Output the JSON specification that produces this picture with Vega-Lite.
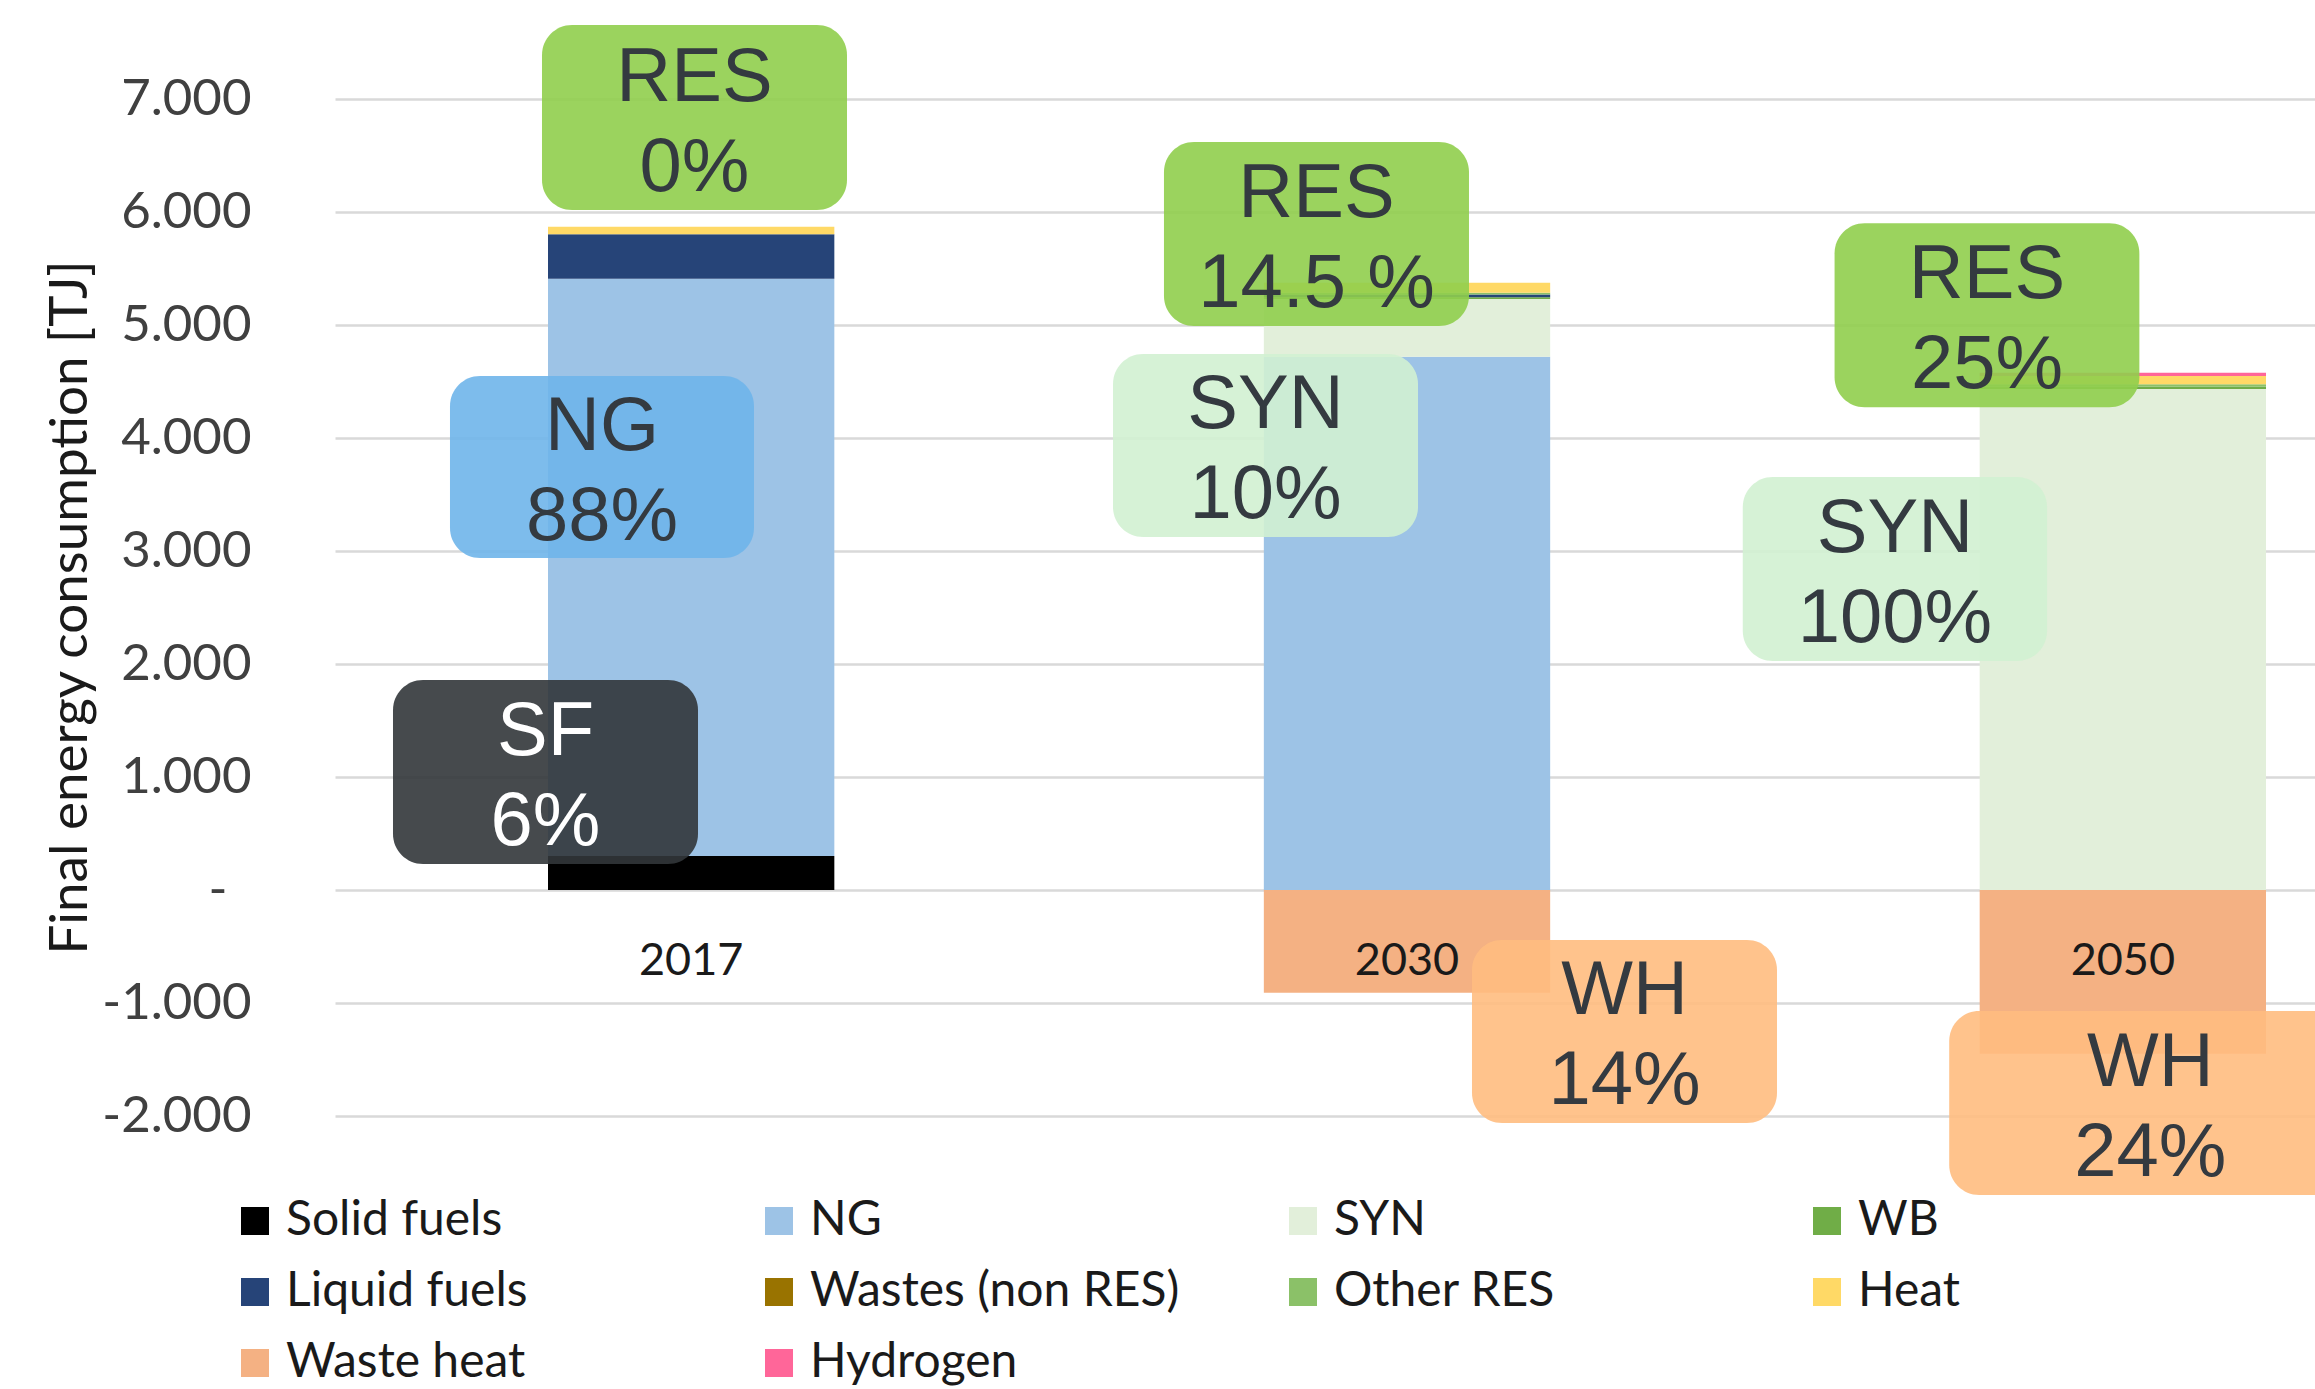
{
  "$schema": "https://vega.github.io/schema/vega-lite/v6.json",
  "width": 1980,
  "height": 1017,
  "autosize": {"type": "none"},
  "padding": {"left": 335, "top": 99, "right": 0, "bottom": 273},
  "background": "white",
  "config": {"view": {"stroke": null}},
  "datasets": {
    "bars": [
      {"year": "2017", "source": "Solid fuels", "k": 0, "value": 300},
      {"year": "2017", "source": "NG", "k": 1, "value": 5110},
      {"year": "2017", "source": "Liquid fuels", "k": 4, "value": 392},
      {"year": "2017", "source": "Heat", "k": 7, "value": 68},
      {"year": "2030", "source": "NG", "k": 1, "value": 4720},
      {"year": "2030", "source": "SYN", "k": 2, "value": 510},
      {"year": "2030", "source": "WB", "k": 3, "value": 15},
      {"year": "2030", "source": "Liquid fuels", "k": 4, "value": 25},
      {"year": "2030", "source": "Other RES", "k": 6, "value": 15},
      {"year": "2030", "source": "Heat", "k": 7, "value": 90},
      {"year": "2030", "source": "Waste heat", "k": 8, "value": -910},
      {"year": "2050", "source": "SYN", "k": 2, "value": 4434},
      {"year": "2050", "source": "WB", "k": 3, "value": 20},
      {"year": "2050", "source": "Other RES", "k": 6, "value": 22},
      {"year": "2050", "source": "Heat", "k": 7, "value": 72},
      {"year": "2050", "source": "Hydrogen", "k": 9, "value": 30},
      {"year": "2050", "source": "Waste heat", "k": 8, "value": -1450}
    ],
    "years": [{"year": "2017"}, {"year": "2030"}, {"year": "2050"}],
    "callouts": [
      {"group": "RES", "label": "RES\n0%", "x1": -0.2085, "x2": 0.2175, "xc": 0.0045, "y1": 6018, "y2": 7655, "yc": 6836},
      {"group": "SF", "label": "SF\n6%", "x1": -0.4166, "x2": 0.0094, "xc": -0.2036, "y1": 230, "y2": 1858, "yc": 1044},
      {"group": "NG", "label": "NG\n88%", "x1": -0.337, "x2": 0.0876, "xc": -0.1247, "y1": 2938, "y2": 4549, "yc": 3743},
      {"group": "RES", "label": "RES\n14.5 %", "x1": 0.6602, "x2": 1.0862, "xc": 0.8732, "y1": 4991, "y2": 6619, "yc": 5805},
      {"group": "SYN", "label": "SYN\n10%", "x1": 0.589, "x2": 1.015, "xc": 0.802, "y1": 3124, "y2": 4743, "yc": 3934},
      {"group": "WH", "label": "WH\n14%", "x1": 1.0904, "x2": 1.5164, "xc": 1.3034, "y1": -2062, "y2": -442, "yc": -1252},
      {"group": "RES", "label": "RES\n25%", "x1": 1.5968, "x2": 2.0225, "xc": 1.8097, "y1": 4272, "y2": 5900, "yc": 5086},
      {"group": "SYN", "label": "SYN\n100%", "x1": 1.4686, "x2": 1.8936, "xc": 1.6811, "y1": 2027, "y2": 3655, "yc": 2841},
      {"group": "WH", "label": "WH\n24%", "x1": 1.7569, "x2": 2.3184, "xc": 2.0377, "y1": -2699, "y2": -1071, "yc": -1885}
    ]
  },
  "resolve": {"scale": {"x": "independent"}, "axis": {"x": "independent", "y": "independent"}},
  "layer": [
    {
      "resolve": {"axis": {"y": "independent"}},
      "layer": [
        {
          "data": {"name": "bars"},
          "mark": {"type": "bar"},
          "encoding": {
            "x": {"field": "year", "type": "nominal", "sort": ["2017", "2030", "2050"],
                  "scale": {"domain": ["2017", "2030", "2050"], "paddingInner": 0.6, "paddingOuter": 0.183, "align": 0.813},
                  "axis": null},
            "y": {"field": "value", "type": "quantitative", "stack": "zero",
                  "scale": {"domain": [-2000, 7000], "nice": false, "zero": false},
                  "axis": {
                    "title": "Final energy consumption [TJ]",
                    "values": [-2000, -1000, 0, 1000, 2000, 3000, 4000, 5000, 6000, 7000],
                    "grid": true, "gridColor": "#D9D9D9", "gridWidth": 2.5,
                    "ticks": false, "domain": false,
                    "labelFont": "Lato", "labelFontSize": 51, "labelColor": "#404040",
                    "labelPadding": {"condition": {"test": "datum.value === 0", "value": 108}, "value": 84},
                    "labelExpr": "datum.value == 0 ? '-' : replace(replace(format(datum.value, ','), ',', '.'), '\u2212', '-')",
                    "titleFont": "Lato", "titleFontSize": 53, "titleFontWeight": "normal", "titleColor": "#1a1a1a",
                    "titleX": -265, "titleY": 508, "titleAngle": -90, "titleAlign": "center", "titleBaseline": "middle"
                  }},
            "color": {"field": "source", "type": "nominal",
                      "scale": {"domain": ["Solid fuels", "NG", "SYN", "WB", "Liquid fuels", "Wastes (non RES)", "Other RES", "Heat", "Waste heat", "Hydrogen"],
                                "range": ["#000000", "#9DC3E6", "#E2EFDA", "#70AD47", "#264478", "#997300", "#8BC168", "#FFD966", "#F4B183", "#FF6699"]},
                      "legend": {"title": null, "orient": "none", "legendX": -104, "legendY": 1098, "columns": 4,
                                 "direction": "horizontal",
                                 "symbolType": "square", "symbolSize": 784, "symbolStrokeWidth": 0,
                                 "labelFont": "Lato", "labelFontSize": 48, "labelColor": "#1a1a1a", "labelOffset": 7,
                                 "labelLimit": 800, "columnPadding": 99, "rowPadding": 23, "gridAlign": "all", "padding": 0}},
            "order": {"field": "k", "type": "quantitative"}
          }
        },
        {
          "data": {"name": "years"},
          "mark": {"type": "text", "font": "Lato", "fontSize": 45, "color": "#1a1a1a", "baseline": "alphabetic", "dy": 85},
          "encoding": {
            "x": {"field": "year", "type": "nominal", "sort": ["2017", "2030", "2050"],
                  "scale": {"domain": ["2017", "2030", "2050"], "paddingInner": 0.6, "paddingOuter": 0.183, "align": 0.813},
                  "axis": null},
            "y": {"datum": 0, "type": "quantitative", "scale": {"domain": [-2000, 7000], "nice": false, "zero": false}, "axis": null},
            "text": {"field": "year"}
          }
        }
      ]
    },
    {
      "data": {"name": "callouts"},
      "resolve": {"axis": {"y": "independent"}},
      "layer": [
        {
          "mark": {"type": "rect", "cornerRadius": 30, "opacity": 0.9},
          "encoding": {
            "x": {"field": "x1", "type": "quantitative", "scale": {"domain": [-0.4976, 2.2678], "nice": false, "zero": false}, "axis": null},
            "x2": {"field": "x2"},
            "y": {"field": "y1", "type": "quantitative", "scale": {"domain": [-2000, 7000], "nice": false, "zero": false}, "axis": null},
            "y2": {"field": "y2"},
            "fill": {"field": "group", "type": "nominal",
                     "scale": {"domain": ["RES", "NG", "SF", "SYN", "WH"], "range": ["#90CE4D", "#6FB5EA", "#32363A", "#D1F1D1", "#FFBD7F"]},
                     "legend": null}
          }
        },
        {
          "mark": {"type": "text", "font": "Liberation Sans", "fontSize": 76, "lineHeight": 90, "lineBreak": "\n", "baseline": "middle", "align": "center", "dy": -40},
          "encoding": {
            "x": {"field": "xc", "type": "quantitative", "scale": {"domain": [-0.4976, 2.2678], "nice": false, "zero": false}, "axis": null},
            "y": {"field": "yc", "type": "quantitative", "scale": {"domain": [-2000, 7000], "nice": false, "zero": false}, "axis": null},
            "text": {"field": "label"},
            "color": {"condition": {"test": "datum.group === 'SF'", "value": "#ffffff"}, "value": "#343A40"}
          }
        }
      ]
    }
  ]
}
